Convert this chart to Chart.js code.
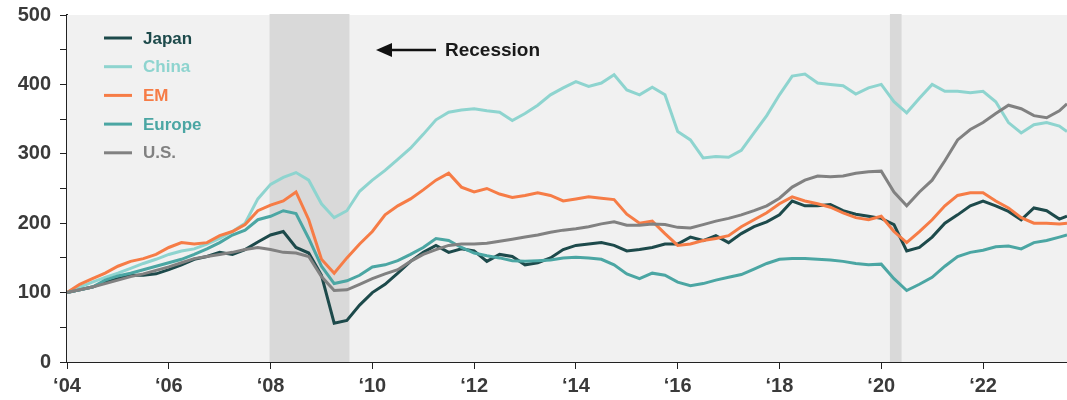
<!DOCTYPE html>
<html>
<head>
<meta charset="utf-8">
<script src="https://cdn.jsdelivr.net/npm/chart.js@4"></script>
<style>
  html, body { margin: 0; padding: 0; background: #fff; }
  #wrap { width: 1067px; height: 400px; position: relative; }
</style>
</head>
<body>
<div id="wrap"><canvas id="chart"></canvas></div>
<script>
// quarterly readings, indexed to 100 at start of 2004
const dates = [
  2004.00, 2004.25, 2004.50, 2004.75, 2005.00, 2005.25, 2005.50, 2005.75,
  2006.00, 2006.25, 2006.50, 2006.75, 2007.00, 2007.25, 2007.50, 2007.75,
  2008.00, 2008.25, 2008.50, 2008.75, 2009.00, 2009.25, 2009.50, 2009.75,
  2010.00, 2010.25, 2010.50, 2010.75, 2011.00, 2011.25, 2011.50, 2011.75,
  2012.00, 2012.25, 2012.50, 2012.75, 2013.00, 2013.25, 2013.50, 2013.75,
  2014.00, 2014.25, 2014.50, 2014.75, 2015.00, 2015.25, 2015.50, 2015.75,
  2016.00, 2016.25, 2016.50, 2016.75, 2017.00, 2017.25, 2017.50, 2017.75,
  2018.00, 2018.25, 2018.50, 2018.75, 2019.00, 2019.25, 2019.50, 2019.75,
  2020.00, 2020.25, 2020.50, 2020.75, 2021.00, 2021.25, 2021.50, 2021.75,
  2022.00, 2022.25, 2022.50, 2022.75, 2023.00, 2023.25, 2023.50, 2023.65
];

const japan = [
  100, 104, 108, 115, 120, 125, 125, 127,
  133, 140, 148, 152, 158, 155, 162, 173,
  183, 188, 165, 157, 125, 56, 60, 82,
  100, 112, 128, 145, 158, 168, 158, 163,
  160, 145, 155, 152, 140, 143, 150, 162,
  168, 170, 172, 168, 160, 162, 165, 170,
  170, 180, 175, 182, 172, 185, 195, 202,
  212, 232, 225, 225, 227, 218, 213, 210,
  207, 198, 160, 165, 180, 200, 212, 225,
  232, 225, 217, 205, 222, 218, 206, 210
];

const china = [
  100, 108, 115, 122, 128, 135, 142, 148,
  155, 160, 163, 170, 178, 188, 200, 235,
  256, 266, 273, 262, 228, 208, 218, 246,
  262, 276, 292, 308, 328, 349, 360, 363,
  365, 362, 360, 348, 358, 370, 385, 395,
  404, 397, 402, 414, 392, 385, 396, 385,
  332, 320, 294, 296, 295, 305, 330, 355,
  385, 412, 415, 402, 400, 398, 386, 395,
  400, 375, 359, 380, 400, 390, 390, 388,
  390, 375, 345, 330, 342, 345, 340, 332
];

const em = [
  100, 112, 120, 128, 138, 145, 149, 155,
  165, 172, 170, 172, 182, 188, 198, 218,
  226, 232, 245, 205, 148, 128, 150, 170,
  188, 212, 225, 235, 248, 262, 272, 252,
  245, 250, 242, 237, 240, 244, 240, 232,
  235, 238, 236, 234, 213, 200, 203, 185,
  168, 170, 175, 178, 182, 195, 205, 215,
  228, 238, 232, 228, 223, 215, 208, 205,
  210, 188, 172, 188, 205, 225, 240, 244,
  244, 232, 222, 208, 200, 200, 199, 200
];

const europe = [
  100, 104, 108, 118, 124, 128, 133, 138,
  143, 148, 155, 163, 172, 183, 190, 205,
  210, 218, 214, 178, 138, 113, 117, 125,
  137, 140, 146, 155, 165, 178, 175, 165,
  157, 153, 150, 146, 145, 146, 147, 150,
  151, 150, 148, 140, 127, 120, 128, 125,
  115, 110, 113, 118, 122, 126, 134, 142,
  148, 149, 149, 148, 147, 145, 142, 140,
  141, 120, 103, 112, 122, 138, 152, 158,
  161, 166, 167, 163, 172, 175, 180, 183
];

const us = [
  100, 104, 108, 113, 118, 123, 127, 132,
  137, 143, 149, 152, 155, 158, 162, 165,
  162, 158, 157, 152, 123, 103, 104, 112,
  120, 127, 133, 145, 155, 162, 168, 170,
  170, 171, 174, 177, 180, 183, 187, 190,
  192, 195, 199, 202, 197, 197, 199, 198,
  194, 193, 198, 203, 207, 212, 218, 225,
  236, 252, 262, 268, 267, 268, 272, 274,
  275, 245, 225, 245, 262, 290, 320, 335,
  345, 358, 370, 365, 355, 352, 362, 372
];

const seriesNames = ['Japan', 'China', 'EM', 'Europe', 'U.S.'];
const seriesColors = ['#1d4a4b', '#8ed4cf', '#f67c46', '#4ba6a3', '#818181'];

const recessionStart = [2007.98, 2020.17];
const recessionEnd = [2009.55, 2020.40];

const FONT = '"Liberation Sans", Arial, Helvetica, sans-serif';

const toPoints = (vals) => dates.map((t, i) => ({ x: t, y: vals[i] }));

// gray plot background + recession bands
const backdrop = {
  id: 'backdrop',
  beforeDatasetsDraw(chart) {
    const { ctx, chartArea: a, scales: { x } } = chart;
    ctx.save();
    ctx.fillStyle = '#f1f1f1';
    ctx.fillRect(a.left, a.top, a.right - a.left, a.bottom - a.top);
    ctx.fillStyle = '#d9d9d9';
    recessionStart.forEach((s, i) => {
      const x0 = x.getPixelForValue(s);
      const x1 = x.getPixelForValue(recessionEnd[i]);
      ctx.fillRect(x0, a.top - 1, x1 - x0, a.bottom - a.top + 1);
    });
    ctx.restore();
  }
};

// legend inside plot + recession note
const notes = {
  id: 'notes',
  afterDraw(chart) {
    const { ctx } = chart;
    ctx.save();
    ctx.font = 'bold 17px ' + FONT;
    ctx.textBaseline = 'middle';
    seriesNames.forEach((name, i) => {
      const y = 38 + i * 28.7;
      ctx.strokeStyle = seriesColors[i];
      ctx.lineWidth = 3;
      ctx.beginPath();
      ctx.moveTo(104, y);
      ctx.lineTo(132, y);
      ctx.stroke();
      ctx.fillStyle = seriesColors[i];
      ctx.fillText(name, 143, y + 1);
    });

    // arrow pointing left to the shaded band
    ctx.strokeStyle = '#111';
    ctx.fillStyle = '#111';
    ctx.lineWidth = 2.5;
    ctx.beginPath();
    ctx.moveTo(388, 50);
    ctx.lineTo(436, 50);
    ctx.stroke();
    ctx.beginPath();
    ctx.moveTo(376, 50);
    ctx.lineTo(392, 43);
    ctx.lineTo(392, 57);
    ctx.closePath();
    ctx.fill();
    ctx.font = 'bold 19px ' + FONT;
    ctx.fillStyle = '#1a1a1a';
    ctx.fillText('Recession', 445, 51);
    ctx.restore();
  }
};

new Chart(document.getElementById('chart'), {
  type: 'line',
  data: {
    datasets: seriesNames.map((name, i) => ({
      label: name,
      data: toPoints([japan, china, em, europe, us][i]),
      borderColor: seriesColors[i],
      backgroundColor: seriesColors[i],
      borderWidth: 3,
      pointRadius: 0,
      tension: 0
    })).reverse()
  },
  options: {
    responsive: true,
    maintainAspectRatio: false,
    animation: false,
    layout: { padding: { top: 13, right: 0, left: 0, bottom: 0 } },
    plugins: {
      legend: { display: false },
      tooltip: { enabled: false }
    },
    scales: {
      x: {
        type: 'linear',
        min: 2004,
        max: 2023.65,
        afterFit: (s) => { s.height = 38; },
        border: { color: '#222', width: 2 },
        grid: { drawOnChartArea: false, drawTicks: true, tickLength: 7, color: '#222' },
        ticks: {
          stepSize: 2,
          includeBounds: false,
          autoSkip: false,
          maxRotation: 0,
          padding: 5,
          color: '#3a3a3a',
          font: { family: FONT, size: 20, weight: 'bold' },
          callback: (v) => '\u2018' + String(v).slice(2)
        }
      },
      y: {
        min: 0,
        max: 500,
        afterFit: (s) => { s.width = 67; },
        border: { color: '#222', width: 2 },
        grid: { drawOnChartArea: false, drawTicks: true, tickLength: 7, color: '#222' },
        ticks: {
          stepSize: 50,
          padding: 9,
          color: '#3a3a3a',
          font: { family: FONT, size: 20, weight: 'bold', lineHeight: 0.6 },
          callback: (v) => (v % 100 === 0 ? v : '')
        }
      }
    }
  },
  plugins: [backdrop, notes]
});
</script>
</body>
</html>
